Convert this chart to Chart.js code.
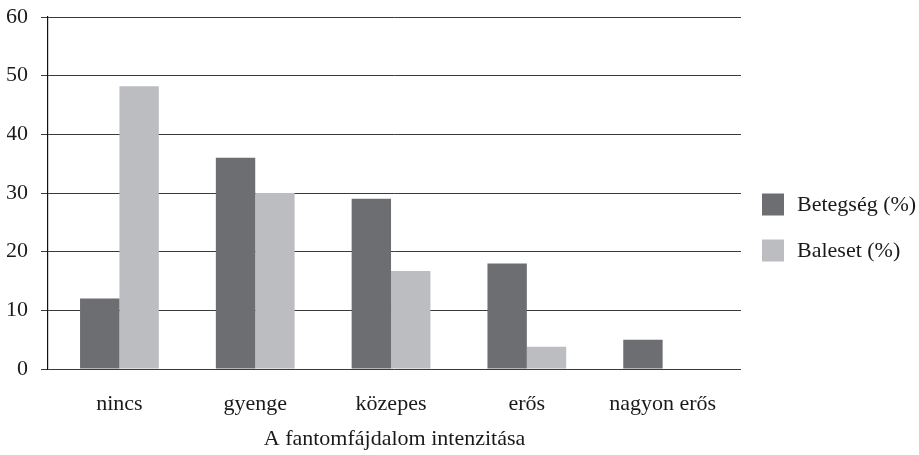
<!DOCTYPE html>
<html>
<head>
<meta charset="utf-8">
<script src="https://cdn.jsdelivr.net/npm/chart.js@4"></script>
<style>
  html, body { margin: 0; padding: 0; background: #ffffff; }
  #wrap { width: 919px; height: 455px; position: relative; }
</style>
</head>
<body>
<div id="wrap"><canvas id="chart"></canvas></div>
<script>
// Phantom pain intensity categories and the share (%) of each group
const categories = ['nincs', 'gyenge', 'közepes', 'erős', 'nagyon erős'];
const betegseg = [12, 36, 29, 18, 5];
const baleset = [48.2, 30, 16.7, 3.8, 0];
const seriesNames = ['Betegség (%)', 'Baleset (%)'];
const yTicks = [0, 10, 20, 30, 40, 50, 60];
const xTitle = 'A fantomfájdalom intenzitása';

const FONT = "'Liberation Serif', 'Times New Roman', serif";
const FONT_SIZE = 22;
const DARK = '#6d6e71';
const LIGHT = '#bcbdc0';

// Legend drawn to the right of the plot, centred vertically on the canvas
const sideLegend = {
  id: 'sideLegend',
  afterDraw(chart) {
    const ctx = chart.ctx;
    const area = chart.chartArea;
    const box = 22, gap = 46;
    const x0 = area.right + 21;
    const total = box + gap * (chart.data.datasets.length - 1);
    let y = chart.height / 2 - total / 2;
    ctx.save();
    ctx.font = FONT_SIZE + 'px ' + FONT;
    ctx.textBaseline = 'middle';
    ctx.textAlign = 'left';
    chart.data.datasets.forEach(ds => {
      ctx.fillStyle = ds.backgroundColor;
      ctx.fillRect(x0, y, box, box);
      ctx.fillStyle = '#1a1a1a';
      ctx.fillText(ds.label, x0 + box + 13, y + box / 2 + 1);
      y += gap;
    });
    ctx.restore();
  }
};

new Chart(document.getElementById('chart'), {
  type: 'bar',
  data: {
    datasets: [
      {
        label: seriesNames[0],
        data: betegseg.map((v, i) => ({ x: i, y: v })),
        backgroundColor: DARK
      },
      {
        label: seriesNames[1],
        data: baleset.map((v, i) => ({ x: i, y: v })),
        backgroundColor: LIGHT
      }
    ]
  },
  options: {
    responsive: true,
    maintainAspectRatio: false,
    animation: false,
    layout: { padding: { left: 7, right: 178, top: 17, bottom: 0 } },
    datasets: { bar: { categoryPercentage: 0.58, barPercentage: 1 } },
    plugins: {
      legend: { display: false },
      tooltip: { enabled: false }
    },
    scales: {
      x: {
        type: 'linear',
        offset: false,
        min: -0.526,
        max: 4.577,
        afterBuildTicks(scale) {
          scale.ticks = categories.map((_, i) => ({ value: i }));
        },
        afterFit(scale) {
          scale.height = 86;
        },
        grid: { display: false },
        border: { display: false },
        ticks: {
          callback: v => categories[v] ?? '',
          font: { family: FONT, size: FONT_SIZE },
          color: '#1a1a1a',
          padding: 14,
          maxRotation: 0,
          autoSkip: false
        },
        title: {
          display: true,
          text: xTitle,
          font: { family: FONT, size: FONT_SIZE },
          color: '#1a1a1a',
          padding: { top: 0, bottom: 3 }
        }
      },
      y: {
        min: 0,
        max: 60,
        afterBuildTicks(scale) {
          scale.ticks = yTicks.map(v => ({ value: v }));
        },
        afterFit(scale) {
          scale.width = 41;
          scale.paddingTop = 0;
          scale.paddingBottom = 0;
        },
        grid: {
          color: '#3a3a3a',
          lineWidth: 1,
          tickLength: 7,
          drawTicks: true
        },
        border: { display: true, color: '#111111', width: 1.2 },
        ticks: {
          font: { family: FONT, size: FONT_SIZE },
          color: '#1a1a1a',
          padding: 13
        }
      }
    }
  },
  plugins: [sideLegend]
});
</script>
</body>
</html>
